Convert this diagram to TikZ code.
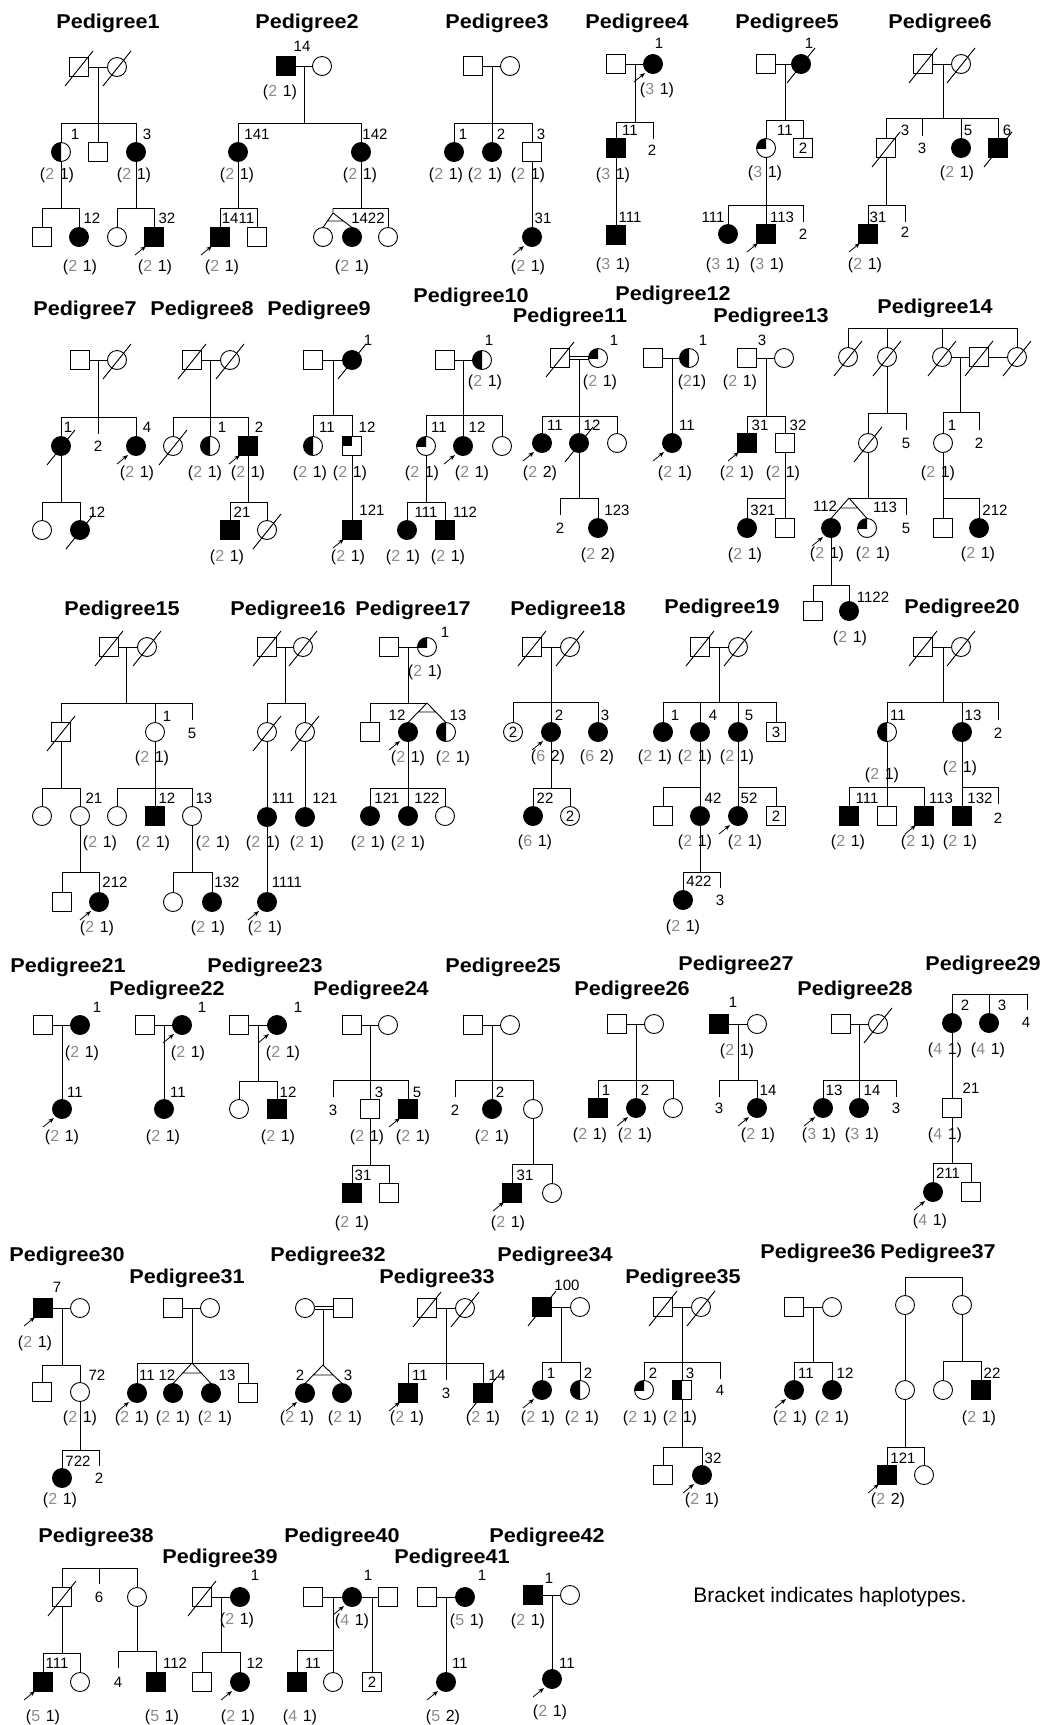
\documentclass[tikz,border=0pt]{standalone}
\usepackage{fontspec}
\setmainfont{Liberation Sans}
\newfontfamily\ttlfam{Liberation Sans}[FakeStretch=1.08]
\usetikzlibrary{arrows.meta}
\definecolor{hg}{gray}{0.55}
\newcommand\Tfont{\ttlfam\bfseries\fontsize{20}{20}\selectfont}
\newcommand\Lfont{\fontsize{15}{15}\selectfont}
\newcommand\Hfont{\fontsize{16}{16}\selectfont}
\newcommand\hp[2]{(\textcolor{hg}{#1}\hspace{0.35em}#2)}
\tikzset{
 sym/.style={draw, line width=0.9pt, inner sep=0pt, outer sep=0pt, minimum size=19pt},
 msq/.style={sym, rectangle, fill=white},
 fci/.style={sym, circle, fill=white},
 msqA/.style={sym, rectangle, fill=black},
 fciA/.style={sym, circle, fill=black},
 lab/.style={font=\Lfont, inner sep=0pt},
 hap/.style={font=\Hfont, inner sep=0pt},
 ttl/.style={font=\Tfont, inner sep=0pt},
 parr/.style={line width=0.8pt, -{Stealth[length=6pt,width=4.5pt]}},
}
\newcommand\Dc[1]{\draw ([shift={(-14,19)}]#1.center) -- ([shift={(14,-16)}]#1.center);}
\newcommand\Pb[1]{\draw[parr] ([shift={(-19,18)}]#1.center) -- ([shift={(-8,9)}]#1.center);}
\newcommand\HC[1]{\begin{scope}\clip ([shift={(-11,-11)}]#1.center) rectangle ([shift={(0,11)}]#1.center); \fill (#1.center) circle (9.5pt);\end{scope}}
\newcommand\QC[1]{\begin{scope}\clip ([shift={(-11,-11)}]#1.center) rectangle (#1.center); \fill (#1.center) circle (9.5pt);\end{scope}}
\newcommand\HS[1]{\fill (#1.north west) rectangle (#1.south);}
\newcommand\QS[1]{\fill (#1.north west) rectangle (#1.center);}
\newcommand\Dr[2]{\draw (#1.north |- 0,#2) -- (#1.north);}
\begin{document}
\begin{tikzpicture}[x=1pt,y=-1pt,line width=0.9pt]
\fill[white] (0,0) rectangle (1049,1725);
\useasboundingbox (0,0) rectangle (1049,1725);
% ---------- titles
\foreach \n/\x/\y in {1/108/23,2/307/23,3/497/23,4/637/23,5/787/23,6/940/23,
 7/85/310,8/202/310,9/319/310,10/471/297,11/570/317,12/673/295,13/771/317,14/935/308,
 15/122/610,16/288/610,17/413/610,18/568/610,19/722/608,20/962/608,
 21/68/967,22/167/990,23/265/967,24/371/990,25/503/967,26/632/990,27/736/965,28/855/990,29/983/965,
 30/67/1256,31/187/1278,32/328/1256,33/437/1278,34/555/1256,35/683/1278,36/818/1253,37/938/1253,
 38/96/1537,39/220/1558,40/342/1537,41/452/1558,42/547/1537}
 {\node[ttl] (t\n) at (\x,\y) {Pedigree\n};}
% ---------- Pedigree 1
\node[msq] (p1a) at (79,67) {}; \Dc{p1a}
\node[fci] (p1b) at (117,67) {}; \Dc{p1b}
\draw (p1a) -- (p1b) (98,67) -- (98,123) (61,123) -- (136,123);
\node[fci] (p1c) at (61,152) {}; \HC{p1c}
\node[msq] (p1d) at (98,152) {};
\node[fciA] (p1e) at (136,152) {};
\Dr{p1c}{123} \Dr{p1d}{123} \Dr{p1e}{123}
\node[lab] at (75,134) {1}; \node[lab] at (147,134) {3};
\node[hap] at (57,175) {\hp21}; \node[hap] at (134,175) {\hp21};
\draw (p1c) -- (61,208) (42,208) -- (79,208);
\node[msq] (p1f) at (42,237) {}; \node[fciA] (p1g) at (79,237) {};
\Dr{p1f}{208} \Dr{p1g}{208}
\node[lab] at (92,218) {12};
\draw (p1e) -- (136,208) (117,208) -- (154,208);
\node[fci] (p1h) at (117,237) {}; \node[msqA] (p1i) at (154,237) {}; \Pb{p1i}
\Dr{p1h}{208} \Dr{p1i}{208}
\node[lab] at (167,218) {32};
\node[hap] at (80,267) {\hp21}; \node[hap] at (155,267) {\hp21};
% ---------- Pedigree 2
\node[msqA] (p2a) at (286,66) {}; \node[fci] (p2b) at (322,66) {};
\draw (p2a) -- (p2b);
\node[lab] at (302,46) {14};
\node[hap] at (280,92) {\hp21};
\draw (304,66) -- (304,123) (238,123) -- (361,123);
\node[fciA] (p2c) at (238,152) {}; \node[fciA] (p2d) at (361,152) {};
\Dr{p2c}{123} \Dr{p2d}{123}
\node[lab] at (257,134) {141}; \node[lab] at (375,134) {142};
\node[hap] at (237,175) {\hp21}; \node[hap] at (360,175) {\hp21};
\draw (p2c) -- (238,208) (220,208) -- (257,208);
\node[msqA] (p2e) at (220,237) {}; \Pb{p2e} \node[msq] (p2f) at (257,237) {};
\Dr{p2e}{208} \Dr{p2f}{208}
\node[lab] at (238,218) {1411};
\node[hap] at (222,267) {\hp21};
\draw (p2d) -- (361,208) (333,208) -- (388,208);
\node[fci] (p2g) at (323,237) {}; \node[fciA] (p2h) at (352,237) {}; \node[fci] (p2i) at (388,237) {};
\draw (333,208) -- (333,213) -- (p2g.north) (333,213) -- (p2h.north) (328,221) -- (343,221);
\Dr{p2i}{208}
\node[lab] at (368,218) {1422};
\node[hap] at (352,267) {\hp21};
% ---------- Pedigree 3
\node[msq] (p3a) at (473,66) {}; \node[fci] (p3b) at (510,66) {};
\draw (p3a) -- (p3b) (492,66) -- (492,123) (454,123) -- (532,123);
\node[fciA] (p3c) at (454,152) {}; \node[fciA] (p3d) at (492,152) {}; \node[msq] (p3e) at (532,152) {};
\Dr{p3c}{123} \Dr{p3d}{123} \Dr{p3e}{123}
\node[lab] at (463,134) {1}; \node[lab] at (501,134) {2}; \node[lab] at (541,134) {3};
\node[hap] at (446,175) {\hp21}; \node[hap] at (485,175) {\hp21}; \node[hap] at (528,175) {\hp21};
\node[fciA] (p3f) at (532,237) {}; \Pb{p3f}
\draw (p3e) -- (p3f);
\node[lab] at (543,218) {31};
\node[hap] at (528,267) {\hp21};
% ---------- Pedigree 4
\node[msq] (p4a) at (616,64) {}; \node[fciA] (p4b) at (653,64) {}; \Pb{p4b}
\node[lab] at (659,43) {1};
\draw (p4a) -- (p4b) (635,64) -- (635,122) (616,122) -- (653,122) (653,122) -- (653,139);
\node[hap] at (657,90) {\hp31};
\node[msqA] (p4c) at (616,148) {}; \Dr{p4c}{122}
\node[lab] at (630,130) {11}; \node[lab] at (652,150) {2};
\node[hap] at (613,175) {\hp31};
\node[msqA] (p4d) at (616,235) {}; \draw (p4c) -- (p4d);
\node[lab] at (630,217) {111};
\node[hap] at (613,265) {\hp31};
% ---------- Pedigree 5
\node[msq] (p5a) at (766,64) {}; \node[fciA] (p5b) at (801,64) {}; \Dc{p5b}
\node[lab] at (809,43) {1};
\draw (p5a) -- (p5b) (785,64) -- (785,120) (766,120) -- (803,120);
\node[fci] (p5c) at (766,148) {}; \QC{p5c}
\node[msq,font=\Lfont] (p5d) at (803,148) {2};
\Dr{p5c}{120} \Dr{p5d}{120}
\node[lab] at (785,130) {11};
\node[hap] at (765,173) {\hp31};
\draw (p5c) -- (766,205) (728,205) -- (803,205) (803,205) -- (803,222);
\node[fciA] (p5e) at (728,234) {}; \node[msqA] (p5f) at (766,234) {}; \Pb{p5f}
\Dr{p5e}{205} \Dr{p5f}{205}
\node[lab] at (713,217) {111}; \node[lab] at (782,217) {113}; \node[lab] at (803,234) {2};
\node[hap] at (723,265) {\hp31}; \node[hap] at (767,265) {\hp31};
% ---------- Pedigree 6
\node[msq] (p6a) at (923,64) {}; \Dc{p6a} \node[fci] (p6b) at (961,64) {}; \Dc{p6b}
\draw (p6a) -- (p6b) (943,64) -- (943,118) (886,118) -- (998,118) (922,118) -- (922,136);
\node[msq] (p6c) at (886,148) {}; \Dc{p6c}
\node[fciA] (p6d) at (961,148) {}; \node[msqA] (p6e) at (998,148) {}; \Dc{p6e}
\Dr{p6c}{118} \Dr{p6d}{118} \Dr{p6e}{118}
\node[lab] at (905,130) {3}; \node[lab] at (922,148) {3}; \node[lab] at (968,130) {5}; \node[lab] at (1007,130) {6};
\node[hap] at (957,173) {\hp21};
\draw (p6c) -- (886,205) (868,205) -- (905,205) (905,205) -- (905,222);
\node[msqA] (p6f) at (868,234) {}; \Pb{p6f} \Dr{p6f}{205}
\node[lab] at (878,217) {31}; \node[lab] at (905,232) {2};
\node[hap] at (865,265) {\hp21};
% ---------- Pedigree 7
\node[msq] (p7a) at (80,360) {}; \node[fci] (p7b) at (117,360) {}; \Dc{p7b}
\draw (p7a) -- (p7b) (98,360) -- (98,417) (61,417) -- (136,417) (98,417) -- (98,434);
\node[fciA] (p7c) at (61,446) {}; \Dc{p7c} \node[fciA] (p7d) at (136,446) {}; \Pb{p7d}
\Dr{p7c}{417} \Dr{p7d}{417}
\node[lab] at (68,427) {1}; \node[lab] at (98,446) {2}; \node[lab] at (147,427) {4};
\node[hap] at (137,473) {\hp21};
\draw (p7c) -- (61,502) (42,502) -- (80,502);
\node[fci] (p7e) at (42,530) {}; \node[fciA] (p7f) at (80,530) {}; \Dc{p7f}
\Dr{p7e}{502} \Dr{p7f}{502}
\node[lab] at (97,512) {12};
% ---------- Pedigree 8
\node[msq] (p8a) at (192,360) {}; \Dc{p8a} \node[fci] (p8b) at (230,360) {}; \Dc{p8b}
\draw (p8a) -- (p8b) (210,360) -- (210,417) (173,417) -- (248,417);
\node[fci] (p8c) at (173,446) {}; \Dc{p8c} \node[fci] (p8d) at (210,446) {}; \HC{p8d}
\node[msqA] (p8e) at (248,446) {}; \Pb{p8e}
\Dr{p8c}{417} \Dr{p8d}{417} \Dr{p8e}{417}
\node[lab] at (222,427) {1}; \node[lab] at (259,427) {2};
\node[hap] at (205,473) {\hp21}; \node[hap] at (248,473) {\hp21};
\draw (p8e) -- (248,502) (230,502) -- (267,502);
\node[msqA] (p8f) at (230,530) {}; \node[fci] (p8g) at (267,530) {}; \Dc{p8g}
\Dr{p8f}{502} \Dr{p8g}{502}
\node[lab] at (242,512) {21};
\node[hap] at (227,557) {\hp21};
% ---------- Pedigree 9
\node[msq] (p9a) at (313,360) {}; \node[fciA] (p9b) at (352,360) {}; \Dc{p9b}
\node[lab] at (368,340) {1};
\draw (p9a) -- (p9b) (333,360) -- (333,415) (313,415) -- (352,415);
\node[fci] (p9c) at (313,446) {}; \HC{p9c} \node[msq] (p9d) at (352,446) {}; \QS{p9d}
\Dr{p9c}{415} \Dr{p9d}{415}
\node[lab] at (327,427) {11}; \node[lab] at (367,427) {12};
\node[hap] at (310,473) {\hp21}; \node[hap] at (350,473) {\hp21};
\node[msqA] (p9e) at (352,530) {}; \Pb{p9e} \draw (p9d) -- (p9e);
\node[lab] at (372,510) {121};
\node[hap] at (348,557) {\hp21};
% ---------- Pedigree 10
\node[msq] (p10a) at (445,360) {}; \node[fci] (p10b) at (482,360) {}; \HC{p10b}
\node[lab] at (489,340) {1};
\draw (p10a) -- (p10b) (463,360) -- (463,415) (426,415) -- (502,415);
\node[hap] at (485,382) {\hp21};
\node[fci] (p10c) at (426,446) {}; \QC{p10c} \node[fciA] (p10d) at (463,446) {}; \Pb{p10d}
\node[fci] (p10e) at (502,446) {};
\Dr{p10c}{415} \Dr{p10d}{415} \Dr{p10e}{415}
\node[lab] at (439,427) {11}; \node[lab] at (477,427) {12};
\node[hap] at (422,473) {\hp21}; \node[hap] at (472,473) {\hp21};
\draw (p10c) -- (426,502) (407,502) -- (445,502);
\node[fciA] (p10f) at (407,530) {}; \node[msqA] (p10g) at (445,530) {};
\Dr{p10f}{502} \Dr{p10g}{502}
\node[lab] at (426,512) {111}; \node[lab] at (465,512) {112};
\node[hap] at (403,557) {\hp21}; \node[hap] at (448,557) {\hp21};
% ---------- Pedigree 11
\node[msq] (p11a) at (560,358) {}; \Dc{p11a} \node[fci] (p11b) at (598,358) {}; \QC{p11b}
\draw ([yshift=1.5pt]p11a.east) -- ([yshift=1.5pt]p11b.west) ([yshift=-1.5pt]p11a.east) -- ([yshift=-1.5pt]p11b.west);
\node[lab] at (614,340) {1};
\draw (579,360) -- (579,416) (542,416) -- (617,416);
\node[hap] at (600,382) {\hp21};
\node[fciA] (p11c) at (542,443) {}; \Pb{p11c} \node[fciA] (p11d) at (579,443) {}; \Dc{p11d}
\node[fci] (p11e) at (617,443) {};
\Dr{p11c}{416} \Dr{p11d}{416} \Dr{p11e}{416}
\node[lab] at (555,425) {11}; \node[lab] at (592,425) {12};
\node[hap] at (540,473) {\hp22};
\draw (p11d) -- (579,498) (560,498) -- (598,498) (560,498) -- (560,515);
\node[fciA] (p11f) at (598,528) {}; \Dr{p11f}{498}
\node[lab] at (560,528) {2}; \node[lab] at (617,510) {123};
\node[hap] at (598,555) {\hp22};
% ---------- Pedigree 12
\node[msq] (p12a) at (653,358) {}; \node[fci] (p12b) at (689,358) {}; \HC{p12b}
\node[lab] at (703,340) {1};
\draw (p12a) -- (p12b);
\node[fciA] (p12c) at (672,443) {}; \Pb{p12c}
\draw (672,358) -- (p12c);
\node[lab] at (687,425) {11};
\node[hap] at (692,382) {(\textcolor{hg}{2}1)};
\node[hap] at (675,473) {\hp21};
% ---------- Pedigree 13
\node[msq] (p13a) at (747,358) {}; \node[fci] (p13b) at (784,358) {};
\node[lab] at (762,340) {3};
\draw (p13a) -- (p13b) (766,358) -- (766,416) (747,416) -- (785,416);
\node[hap] at (740,382) {\hp21};
\node[msqA] (p13c) at (747,443) {}; \Pb{p13c} \node[msq] (p13d) at (785,443) {};
\Dr{p13c}{416} \Dr{p13d}{416}
\node[lab] at (760,425) {31}; \node[lab] at (798,425) {32};
\node[hap] at (737,473) {\hp21}; \node[hap] at (783,473) {\hp21};
\draw (p13d) -- (785,498) (747,498) -- (785,498);
\node[fciA] (p13e) at (747,528) {}; \node[msq] (p13f) at (785,528) {};
\Dr{p13e}{498} \Dr{p13f}{498}
\node[lab] at (763,510) {321};
\node[hap] at (745,555) {\hp21};
% ---------- Pedigree 14
\draw (848,328) -- (1017,328);
\node[fci] (p14a) at (848,357) {}; \Dc{p14a} \node[fci] (p14b) at (887,357) {}; \Dc{p14b}
\node[fci] (p14c) at (942,357) {}; \Dc{p14c} \node[msq] (p14d) at (979,357) {}; \Dc{p14d}
\node[fci] (p14e) at (1017,357) {}; \Dc{p14e}
\Dr{p14a}{328} \Dr{p14b}{328} \Dr{p14c}{328} \Dr{p14e}{328}
\draw (p14c) -- (p14d) (p14d) -- (p14e);
\draw (960,357) -- (960,412) (943,412) -- (979,412) (979,412) -- (979,430);
\draw (p14b) -- (887,413) (868,413) -- (906,413) (906,413) -- (906,430);
\node[fci] (p14f) at (868,443) {}; \Dc{p14f} \Dr{p14f}{413}
\node[lab] at (906,443) {5};
\node[fci] (p14g) at (943,443) {}; \Dr{p14g}{412}
\node[lab] at (952,425) {1}; \node[lab] at (979,443) {2};
\node[hap] at (938,473) {\hp21};
\draw (p14f) -- (868,498) (849,498) -- (906,498) (906,498) -- (906,515);
\node[fciA] (p14h) at (831,528) {}; \Pb{p14h} \node[fci] (p14i) at (867,528) {}; \QC{p14i}
\draw (849,498) -- (p14h.north) (849,498) -- (p14i.north) (840,508) -- (858,508);
\node[lab] at (825,506) {112}; \node[lab] at (885,507) {113}; \node[lab] at (906,528) {5};
\node[hap] at (827,554) {\hp21}; \node[hap] at (873,554) {\hp21};
\draw (p14h) -- (831,585) (813,585) -- (849,585);
\node[msq] (p14j) at (813,611) {}; \node[fciA] (p14k) at (849,611) {};
\Dr{p14j}{585} \Dr{p14k}{585}
\node[lab] at (873,597) {1122};
\node[hap] at (850,638) {\hp21};
\draw (p14g) -- (943,498) (943,498) -- (979,498);
\node[msq] (p14l) at (943,528) {}; \node[fciA] (p14m) at (979,528) {};
\Dr{p14l}{498} \Dr{p14m}{498}
\node[lab] at (995,510) {212};
\node[hap] at (978,554) {\hp21};
% ---------- Pedigree 15
\node[msq] (p15a) at (109,647) {}; \Dc{p15a} \node[fci] (p15b) at (147,647) {}; \Dc{p15b}
\draw (p15a) -- (p15b) (126,647) -- (126,703) (61,703) -- (192,703) (192,703) -- (192,720);
\node[msq] (p15c) at (61,732) {}; \Dc{p15c} \node[fci] (p15d) at (155,732) {};
\Dr{p15c}{703} \Dr{p15d}{703}
\node[lab] at (167,716) {1}; \node[lab] at (192,733) {5};
\node[hap] at (152,758) {\hp21};
\draw (p15c) -- (61,788) (42,788) -- (80,788);
\node[fci] (p15e) at (42,816) {}; \node[fci] (p15f) at (80,816) {};
\Dr{p15e}{788} \Dr{p15f}{788}
\node[lab] at (94,798) {21};
\node[hap] at (100,843) {\hp21};
\draw (p15d) -- (155,788) (117,788) -- (192,788);
\node[fci] (p15g) at (117,816) {}; \node[msqA] (p15h) at (155,816) {}; \node[fci] (p15i) at (192,816) {};
\Dr{p15g}{788} \Dr{p15h}{788} \Dr{p15i}{788}
\node[lab] at (167,798) {12}; \node[lab] at (204,798) {13};
\node[hap] at (153,843) {\hp21}; \node[hap] at (213,843) {\hp21};
\draw (p15f) -- (80,872) (62,872) -- (99,872);
\node[msq] (p15j) at (62,902) {}; \node[fciA] (p15k) at (99,902) {}; \Pb{p15k}
\Dr{p15j}{872} \Dr{p15k}{872}
\node[lab] at (115,882) {212};
\node[hap] at (97,928) {\hp21};
\draw (p15i) -- (192,872) (173,872) -- (212,872);
\node[fci] (p15l) at (173,902) {}; \node[fciA] (p15m) at (212,902) {};
\Dr{p15l}{872} \Dr{p15m}{872}
\node[lab] at (227,882) {132};
\node[hap] at (208,928) {\hp21};
% ---------- Pedigree 16
\node[msq] (p16a) at (267,647) {}; \Dc{p16a} \node[fci] (p16b) at (303,647) {}; \Dc{p16b}
\draw (p16a) -- (p16b) (285,647) -- (285,703) (267,703) -- (305,703);
\node[fci] (p16c) at (267,732) {}; \Dc{p16c} \node[fci] (p16d) at (305,732) {}; \Dc{p16d}
\Dr{p16c}{703} \Dr{p16d}{703}
\node[fciA] (p16e) at (267,817) {}; \node[fciA] (p16f) at (305,817) {};
\draw (p16c) -- (p16e) (p16d) -- (p16f);
\node[lab] at (283,798) {111}; \node[lab] at (325,798) {121};
\node[hap] at (263,843) {\hp21}; \node[hap] at (307,843) {\hp21};
\node[fciA] (p16g) at (267,902) {}; \Pb{p16g} \draw (p16e) -- (p16g);
\node[lab] at (287,882) {1111};
\node[hap] at (265,928) {\hp21};
% ---------- Pedigree 17
\node[msq] (p17a) at (389,647) {}; \node[fci] (p17b) at (427,647) {}; \QC{p17b}
\node[lab] at (445,632) {1};
\draw (p17a) -- (p17b) (408,647) -- (408,703) (370,703) -- (427,703);
\node[hap] at (425,672) {\hp21};
\node[msq] (p17c) at (370,732) {}; \Dr{p17c}{703}
\node[fciA] (p17d) at (408,732) {}; \Pb{p17d} \node[fci] (p17e) at (446,732) {}; \HC{p17e}
\draw (427,703) -- (p17d.north) (427,703) -- (p17e.north) (418,712) -- (436,712);
\node[lab] at (397,715) {12}; \node[lab] at (458,715) {13};
\node[hap] at (408,758) {\hp21}; \node[hap] at (453,758) {\hp21};
\draw (p17d) -- (408,788) (370,788) -- (445,788);
\node[fciA] (p17f) at (370,816) {}; \node[fciA] (p17g) at (408,816) {}; \node[fci] (p17h) at (445,816) {};
\Dr{p17f}{788} \Dr{p17g}{788} \Dr{p17h}{788}
\node[lab] at (387,798) {121}; \node[lab] at (427,798) {122};
\node[hap] at (368,843) {\hp21}; \node[hap] at (408,843) {\hp21};
% ---------- Pedigree 18
\node[msq] (p18a) at (532,647) {}; \Dc{p18a} \node[fci] (p18b) at (570,647) {}; \Dc{p18b}
\draw (p18a) -- (p18b) (551,647) -- (551,702) (513,702) -- (598,702);
\node[fci,font=\Lfont] (p18c) at (513,732) {2}; \node[fciA] (p18d) at (551,732) {}; \Pb{p18d}
\node[fciA] (p18e) at (598,732) {};
\Dr{p18c}{702} \Dr{p18d}{702} \Dr{p18e}{702}
\node[lab] at (559,715) {2}; \node[lab] at (605,715) {3};
\node[hap] at (548,757) {\hp62}; \node[hap] at (597,757) {\hp62};
\draw (p18d) -- (551,788) (533,788) -- (570,788);
\node[fciA] (p18f) at (533,816) {}; \node[fci,font=\Lfont] (p18g) at (570,816) {2};
\Dr{p18f}{788} \Dr{p18g}{788}
\node[lab] at (545,798) {22};
\node[hap] at (535,842) {\hp61};
% ---------- Pedigree 19
\node[msq] (p19a) at (700,647) {}; \Dc{p19a} \node[fci] (p19b) at (738,647) {}; \Dc{p19b}
\draw (p19a) -- (p19b) (719,647) -- (719,702) (663,702) -- (776,702);
\node[fciA] (p19c) at (663,732) {}; \node[fciA] (p19d) at (700,732) {}; \node[fciA] (p19e) at (738,732) {};
\node[msq,font=\Lfont] (p19f) at (776,732) {3};
\Dr{p19c}{702} \Dr{p19d}{702} \Dr{p19e}{702} \Dr{p19f}{702}
\node[lab] at (675,715) {1}; \node[lab] at (713,715) {4}; \node[lab] at (749,715) {5};
\node[hap] at (655,757) {\hp21}; \node[hap] at (695,757) {\hp21}; \node[hap] at (737,757) {\hp21};
\draw (p19d) -- (700,787) (663,787) -- (700,787);
\node[msq] (p19g) at (663,816) {}; \node[fciA] (p19h) at (700,816) {};
\Dr{p19g}{787} \Dr{p19h}{787}
\node[lab] at (713,798) {42};
\draw (p19e) -- (738,787) (738,787) -- (776,787);
\node[fciA] (p19i) at (738,816) {}; \Pb{p19i} \node[msq,font=\Lfont] (p19j) at (776,816) {2};
\Dr{p19i}{787} \Dr{p19j}{787}
\node[lab] at (749,798) {52};
\node[hap] at (695,842) {\hp21}; \node[hap] at (745,842) {\hp21};
\draw (p19h) -- (700,872) (683,872) -- (720,872) (720,872) -- (720,888);
\node[fciA] (p19k) at (683,900) {}; \Dr{p19k}{872}
\node[lab] at (699,881) {422}; \node[lab] at (720,900) {3};
\node[hap] at (683,927) {\hp21};
% ---------- Pedigree 20
\node[msq] (p20a) at (923,647) {}; \Dc{p20a} \node[fci] (p20b) at (961,647) {}; \Dc{p20b}
\draw (p20a) -- (p20b) (943,647) -- (943,702) (887,702) -- (998,702) (998,702) -- (998,720);
\node[fci] (p20c) at (887,732) {}; \HC{p20c} \node[fciA] (p20d) at (962,732) {};
\Dr{p20c}{702} \Dr{p20d}{702}
\node[lab] at (898,715) {11}; \node[lab] at (973,715) {13}; \node[lab] at (998,733) {2};
\node[hap] at (882,775) {\hp21}; \node[hap] at (960,768) {\hp21};
\draw (p20c) -- (887,787) (849,787) -- (924,787);
\node[msqA] (p20e) at (849,816) {}; \node[msq] (p20f) at (887,816) {}; \node[msqA] (p20g) at (924,816) {}; \Pb{p20g}
\Dr{p20e}{787} \Dr{p20f}{787} \Dr{p20g}{787}
\node[lab] at (867,798) {111}; \node[lab] at (941,798) {113};
\draw (p20d) -- (962,787) (962,787) -- (998,787) (998,787) -- (998,804);
\node[msqA] (p20h) at (962,816) {}; \Dr{p20h}{787}
\node[lab] at (980,798) {132}; \node[lab] at (998,818) {2};
\node[hap] at (848,842) {\hp21}; \node[hap] at (918,842) {\hp21}; \node[hap] at (960,842) {\hp21};
% ---------- Pedigree 21
\node[msq] (p21a) at (43,1025) {}; \node[fciA] (p21b) at (80,1025) {};
\node[lab] at (97,1007) {1};
\draw (p21a) -- (p21b);
\node[fciA] (p21c) at (62,1109) {}; \Pb{p21c}
\draw (62,1025) -- (p21c);
\node[lab] at (75,1092) {11};
\node[hap] at (82,1053) {\hp21}; \node[hap] at (62,1137) {\hp21};
% ---------- Pedigree 22
\node[msq] (p22a) at (145,1025) {}; \node[fciA] (p22b) at (182,1025) {}; \Pb{p22b}
\node[lab] at (202,1007) {1};
\draw (p22a) -- (p22b);
\node[fciA] (p22c) at (164,1109) {}; \draw (164,1025) -- (p22c);
\node[lab] at (178,1092) {11};
\node[hap] at (188,1053) {\hp21}; \node[hap] at (163,1137) {\hp21};
% ---------- Pedigree 23
\node[msq] (p23a) at (239,1025) {}; \node[fciA] (p23b) at (277,1025) {}; \Pb{p23b}
\node[lab] at (298,1007) {1};
\draw (p23a) -- (p23b) (258,1025) -- (258,1081) (239,1081) -- (277,1081);
\node[fci] (p23c) at (239,1109) {}; \node[msqA] (p23d) at (277,1109) {};
\Dr{p23c}{1081} \Dr{p23d}{1081}
\node[lab] at (288,1092) {12};
\node[hap] at (283,1053) {\hp21}; \node[hap] at (278,1137) {\hp21};
% ---------- Pedigree 24
\node[msq] (p24a) at (352,1025) {}; \node[fci] (p24b) at (388,1025) {};
\draw (p24a) -- (p24b) (370,1025) -- (370,1080) (333,1080) -- (408,1080) (333,1080) -- (333,1097);
\node[lab] at (333,1110) {3};
\node[msq] (p24c) at (370,1109) {}; \node[msqA] (p24d) at (408,1109) {}; \Pb{p24d}
\Dr{p24c}{1080} \Dr{p24d}{1080}
\node[lab] at (379,1092) {3}; \node[lab] at (417,1092) {5};
\node[hap] at (367,1137) {\hp21}; \node[hap] at (413,1137) {\hp21};
\draw (p24c) -- (370,1165) (352,1165) -- (389,1165);
\node[msqA] (p24e) at (352,1193) {}; \node[msq] (p24f) at (389,1193) {};
\Dr{p24e}{1165} \Dr{p24f}{1165}
\node[lab] at (363,1175) {31};
\node[hap] at (352,1223) {\hp21};
% ---------- Pedigree 25
\node[msq] (p25a) at (473,1025) {}; \node[fci] (p25b) at (510,1025) {};
\draw (p25a) -- (p25b) (492,1025) -- (492,1080) (455,1080) -- (533,1080) (455,1080) -- (455,1097);
\node[lab] at (455,1110) {2};
\node[fciA] (p25c) at (492,1109) {}; \node[fci] (p25d) at (533,1109) {};
\Dr{p25c}{1080} \Dr{p25d}{1080}
\node[lab] at (500,1092) {2};
\node[hap] at (492,1137) {\hp21};
\draw (p25d) -- (533,1164) (512,1164) -- (552,1164);
\node[msqA] (p25e) at (512,1193) {}; \Pb{p25e} \node[fci] (p25f) at (552,1193) {};
\Dr{p25e}{1164} \Dr{p25f}{1164}
\node[lab] at (525,1175) {31};
\node[hap] at (508,1223) {\hp21};
% ---------- Pedigree 26
\node[msq] (p26a) at (617,1024) {}; \node[fci] (p26b) at (654,1024) {};
\draw (p26a) -- (p26b) (636,1024) -- (636,1080) (598,1080) -- (673,1080);
\node[msqA] (p26c) at (598,1108) {}; \node[fciA] (p26d) at (636,1108) {}; \Pb{p26d}
\node[fci] (p26e) at (673,1108) {};
\Dr{p26c}{1080} \Dr{p26d}{1080} \Dr{p26e}{1080}
\node[lab] at (606,1090) {1}; \node[lab] at (645,1090) {2};
\node[hap] at (590,1135) {\hp21}; \node[hap] at (635,1135) {\hp21};
% ---------- Pedigree 27
\node[msqA] (p27a) at (719,1024) {}; \node[fci] (p27b) at (757,1024) {};
\node[lab] at (733,1002) {1};
\draw (p27a) -- (p27b) (738,1024) -- (738,1080) (719,1080) -- (757,1080) (719,1080) -- (719,1097);
\node[hap] at (737,1051) {\hp21};
\node[lab] at (719,1108) {3};
\node[fciA] (p27c) at (757,1108) {}; \Pb{p27c} \Dr{p27c}{1080}
\node[lab] at (768,1090) {14};
\node[hap] at (758,1135) {\hp21};
% ---------- Pedigree 28
\node[msq] (p28a) at (841,1024) {}; \node[fci] (p28b) at (878,1024) {}; \Dc{p28b}
\draw (p28a) -- (p28b) (859,1024) -- (859,1080) (823,1080) -- (896,1080) (896,1080) -- (896,1097);
\node[fciA] (p28c) at (823,1108) {}; \Pb{p28c} \node[fciA] (p28d) at (859,1108) {};
\Dr{p28c}{1080} \Dr{p28d}{1080}
\node[lab] at (834,1090) {13}; \node[lab] at (872,1090) {14}; \node[lab] at (896,1108) {3};
\node[hap] at (819,1135) {\hp31}; \node[hap] at (862,1135) {\hp31};
% ---------- Pedigree 29
\draw (952,994) -- (1027,994) (1027,994) -- (1027,1010);
\node[fciA] (p29a) at (952,1023) {}; \node[fciA] (p29b) at (989,1023) {};
\Dr{p29a}{994} \Dr{p29b}{994}
\node[lab] at (965,1005) {2}; \node[lab] at (1002,1005) {3}; \node[lab] at (1026,1022) {4};
\node[hap] at (945,1050) {\hp41}; \node[hap] at (988,1050) {\hp41};
\node[msq] (p29c) at (952,1108) {}; \draw (p29a) -- (p29c);
\node[lab] at (971,1088) {21};
\node[hap] at (945,1135) {\hp41};
\draw (p29c) -- (952,1163) (933,1163) -- (971,1163);
\node[fciA] (p29d) at (933,1192) {}; \Pb{p29d} \node[msq] (p29e) at (971,1192) {};
\Dr{p29d}{1163} \Dr{p29e}{1163}
\node[lab] at (948,1173) {211};
\node[hap] at (930,1221) {\hp41};
% ---------- Pedigree 30
\node[msqA] (p30a) at (43,1308) {}; \Pb{p30a} \node[fci] (p30b) at (80,1308) {};
\node[lab] at (57,1287) {7};
\draw (p30a) -- (p30b) (62,1308) -- (62,1365) (42,1365) -- (80,1365);
\node[hap] at (35,1343) {\hp21};
\node[msq] (p30c) at (42,1392) {}; \node[fci] (p30d) at (80,1392) {};
\Dr{p30c}{1365} \Dr{p30d}{1365}
\node[lab] at (97,1375) {72};
\node[hap] at (80,1418) {\hp21};
\draw (p30d) -- (80,1450) (62,1450) -- (99,1450) (99,1450) -- (99,1466);
\node[fciA] (p30e) at (62,1478) {}; \Dr{p30e}{1450}
\node[lab] at (78,1461) {722}; \node[lab] at (99,1478) {2};
\node[hap] at (60,1500) {\hp21};
% ---------- Pedigree 31
\node[msq] (p31a) at (173,1308) {}; \node[fci] (p31b) at (210,1308) {};
\draw (p31a) -- (p31b) (192,1308) -- (192,1363) (137,1363) -- (248,1363);
\node[fciA] (p31c) at (137,1393) {}; \Pb{p31c}
\node[fciA] (p31d) at (173,1393) {}; \node[fciA] (p31e) at (211,1393) {};
\node[msq] (p31f) at (248,1393) {};
\Dr{p31c}{1363} \Dr{p31f}{1363}
\draw (192,1363) -- (p31d.north) (192,1363) -- (p31e.north) (183,1373) -- (201,1373);
\node[lab] at (147,1375) {11}; \node[lab] at (167,1375) {12}; \node[lab] at (227,1375) {13};
\node[hap] at (132,1418) {\hp21}; \node[hap] at (173,1418) {\hp21}; \node[hap] at (215,1418) {\hp21};
% ---------- Pedigree 32
\node[fci] (p32a) at (305,1308) {}; \node[msq] (p32b) at (343,1308) {};
\draw ([yshift=1.5pt]p32a.east) -- ([yshift=1.5pt]p32b.west) ([yshift=-1.5pt]p32a.east) -- ([yshift=-1.5pt]p32b.west);
\draw (323,1310) -- (323,1365);
\node[fciA] (p32c) at (305,1393) {}; \Pb{p32c} \node[fciA] (p32d) at (342,1393) {};
\draw (323,1365) -- (p32c.north) (323,1365) -- (p32d.north) (313,1375) -- (333,1375);
\node[lab] at (300,1375) {2}; \node[lab] at (348,1375) {3};
\node[hap] at (297,1418) {\hp21}; \node[hap] at (345,1418) {\hp21};
% ---------- Pedigree 33
\node[msq] (p33a) at (427,1308) {}; \Dc{p33a} \node[fci] (p33b) at (465,1308) {}; \Dc{p33b}
\draw (p33a) -- (p33b) (446,1308) -- (446,1363) (408,1363) -- (483,1363) (446,1363) -- (446,1380);
\node[msqA] (p33c) at (408,1393) {}; \Pb{p33c} \node[msqA] (p33d) at (483,1393) {}; \Dc{p33d}
\Dr{p33c}{1363} \Dr{p33d}{1363}
\node[lab] at (420,1375) {11}; \node[lab] at (446,1393) {3}; \node[lab] at (497,1375) {14};
\node[hap] at (407,1418) {\hp21}; \node[hap] at (483,1418) {\hp21};
% ---------- Pedigree 34
\node[msqA] (p34a) at (542,1307) {}; \Dc{p34a} \node[fci] (p34b) at (580,1307) {};
\node[lab] at (567,1285) {100};
\draw (p34a) -- (p34b) (561,1307) -- (561,1362) (542,1362) -- (580,1362);
\node[fciA] (p34c) at (542,1390) {}; \Pb{p34c} \node[fci] (p34d) at (580,1390) {}; \HC{p34d}
\Dr{p34c}{1362} \Dr{p34d}{1362}
\node[lab] at (551,1373) {1}; \node[lab] at (588,1373) {2};
\node[hap] at (538,1418) {\hp21}; \node[hap] at (582,1418) {\hp21};
% ---------- Pedigree 35
\node[msq] (p35a) at (663,1307) {}; \Dc{p35a} \node[fci] (p35b) at (701,1307) {}; \Dc{p35b}
\draw (p35a) -- (p35b) (682,1307) -- (682,1362) (644,1362) -- (720,1362) (720,1362) -- (720,1379);
\node[fci] (p35c) at (644,1390) {}; \QC{p35c} \node[msq] (p35d) at (682,1390) {}; \HS{p35d}
\Dr{p35c}{1362} \Dr{p35d}{1362}
\node[lab] at (653,1373) {2}; \node[lab] at (690,1373) {3}; \node[lab] at (720,1390) {4};
\node[hap] at (640,1418) {\hp21}; \node[hap] at (680,1418) {\hp21};
\draw (p35d) -- (682,1447) (663,1447) -- (702,1447);
\node[msq] (p35e) at (663,1475) {}; \node[fciA] (p35f) at (702,1475) {}; \Pb{p35f}
\Dr{p35e}{1447} \Dr{p35f}{1447}
\node[lab] at (713,1458) {32};
\node[hap] at (702,1500) {\hp21};
% ---------- Pedigree 36
\node[msq] (p36a) at (794,1307) {}; \node[fci] (p36b) at (832,1307) {};
\draw (p36a) -- (p36b) (813,1307) -- (813,1362) (794,1362) -- (832,1362);
\node[fciA] (p36c) at (794,1390) {}; \Pb{p36c} \node[fciA] (p36d) at (832,1390) {};
\Dr{p36c}{1362} \Dr{p36d}{1362}
\node[lab] at (806,1373) {11}; \node[lab] at (845,1373) {12};
\node[hap] at (790,1418) {\hp21}; \node[hap] at (832,1418) {\hp21};
% ---------- Pedigree 37
\draw (905,1277) -- (962,1277);
\node[fci] (p37a) at (905,1305) {}; \node[fci] (p37b) at (962,1305) {};
\Dr{p37a}{1277} \Dr{p37b}{1277}
\node[fci] (p37c) at (905,1390) {}; \draw (p37a) -- (p37c);
\draw (p37b) -- (962,1361) (943,1361) -- (981,1361);
\node[fci] (p37d) at (943,1390) {}; \node[msqA] (p37e) at (981,1390) {};
\Dr{p37d}{1361} \Dr{p37e}{1361}
\node[lab] at (992,1373) {22};
\node[hap] at (979,1418) {\hp21};
\draw (p37c) -- (905,1447) (887,1447) -- (924,1447);
\node[msqA] (p37f) at (887,1475) {}; \Pb{p37f} \node[fci] (p37g) at (924,1475) {};
\Dr{p37f}{1447} \Dr{p37g}{1447}
\node[lab] at (903,1458) {121};
\node[hap] at (888,1500) {\hp22};
% ---------- Pedigree 38
\draw (62,1568) -- (137,1568) (99,1568) -- (99,1584);
\node[msq] (p38a) at (62,1597) {}; \Dc{p38a} \node[fci] (p38b) at (137,1597) {};
\Dr{p38a}{1568} \Dr{p38b}{1568}
\node[lab] at (99,1597) {6};
\draw (p38a) -- (62,1653) (43,1653) -- (80,1653);
\node[msqA] (p38c) at (43,1682) {}; \Pb{p38c} \node[fci] (p38d) at (80,1682) {};
\Dr{p38c}{1653} \Dr{p38d}{1653}
\node[lab] at (57,1663) {111};
\node[hap] at (43,1717) {\hp51};
\draw (p38b) -- (137,1651) (118,1651) -- (156,1651) (118,1651) -- (118,1668);
\node[lab] at (118,1682) {4};
\node[msqA] (p38e) at (156,1682) {}; \Dr{p38e}{1651}
\node[lab] at (175,1663) {112};
\node[hap] at (162,1717) {\hp51};
% ---------- Pedigree 39
\node[msq] (p39a) at (202,1597) {}; \Dc{p39a} \node[fciA] (p39b) at (240,1597) {};
\node[lab] at (255,1575) {1};
\draw (p39a) -- (p39b) (221,1597) -- (221,1652) (202,1652) -- (240,1652);
\node[hap] at (237,1620) {\hp21};
\node[msq] (p39c) at (202,1682) {}; \node[fciA] (p39d) at (240,1682) {}; \Pb{p39d}
\Dr{p39c}{1652} \Dr{p39d}{1652}
\node[lab] at (255,1663) {12};
\node[hap] at (238,1717) {\hp21};
% ---------- Pedigree 40
\node[msq] (p40a) at (313,1597) {}; \node[fciA] (p40b) at (352,1597) {}; \Pb{p40b}
\node[msq] (p40c) at (388,1597) {};
\node[lab] at (368,1575) {1};
\draw (p40a) -- (p40b) (p40b) -- (p40c) (333,1597) -- (333,1650) (297,1650) -- (333,1650);
\node[hap] at (352,1621) {\hp41};
\node[msqA] (p40d) at (297,1682) {}; \node[fci] (p40e) at (333,1682) {};
\Dr{p40d}{1650} \Dr{p40e}{1650}
\node[msq,font=\Lfont] (p40f) at (372,1682) {2};
\draw (372,1597) -- (p40f);
\node[lab] at (313,1663) {11};
\node[hap] at (300,1717) {\hp41};
% ---------- Pedigree 41
\node[msq] (p41a) at (427,1597) {}; \node[fciA] (p41b) at (465,1597) {};
\node[lab] at (482,1575) {1};
\draw (p41a) -- (p41b);
\node[fciA] (p41c) at (446,1682) {}; \Pb{p41c} \draw (446,1597) -- (p41c);
\node[lab] at (460,1663) {11};
\node[hap] at (467,1621) {\hp51}; \node[hap] at (443,1717) {\hp52};
% ---------- Pedigree 42
\node[msqA] (p42a) at (533,1595) {}; \node[fci] (p42b) at (570,1595) {};
\node[lab] at (549,1578) {1};
\draw (p42a) -- (p42b);
\node[fciA] (p42c) at (552,1679) {}; \Pb{p42c} \draw (552,1595) -- (p42c);
\node[lab] at (567,1663) {11};
\node[hap] at (528,1621) {\hp21}; \node[hap] at (550,1712) {\hp21};
% ---------- note
\node[font=\fontsize{21}{21}\selectfont, inner sep=0pt] (note) at (830,1597) {Bracket indicates haplotypes.};
\end{tikzpicture}
\end{document}
